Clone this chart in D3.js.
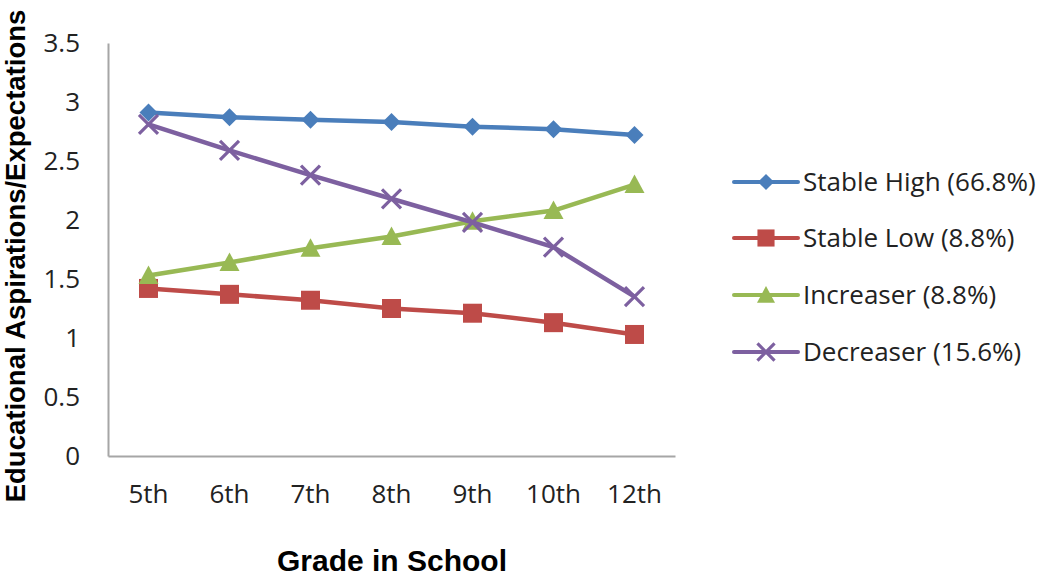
<!DOCTYPE html>
<html><head><meta charset="utf-8">
<script src="https://cdn.jsdelivr.net/npm/d3@7"></script>
<style>body{margin:0;background:#fff;} svg{display:block;}</style>
</head><body>
<script>
const grades = ["5th","6th","7th","8th","9th","10th","12th"];
const stableHigh = [2.91, 2.87, 2.85, 2.83, 2.79, 2.77, 2.72];
const stableLow  = [1.42, 1.37, 1.32, 1.25, 1.21, 1.13, 1.03];
const increaser  = [1.53, 1.64, 1.76, 1.86, 1.99, 2.08, 2.30];
const decreaser  = [2.81, 2.59, 2.38, 2.18, 1.98, 1.77, 1.35];
const seriesNames = ["Stable High (66.8%)","Stable Low (8.8%)","Increaser (8.8%)","Decreaser (15.6%)"];
const yTicks = [0,0.5,1,1.5,2,2.5,3,3.5];
const yTickLabels = ["0","0.5","1","1.5","2","2.5","3","3.5"];

const series = [
  {name: seriesNames[0], values: stableHigh, color: "#4A7EBB", marker: "diamond"},
  {name: seriesNames[1], values: stableLow,  color: "#BE4B48", marker: "square"},
  {name: seriesNames[2], values: increaser,  color: "#98B954", marker: "triangle"},
  {name: seriesNames[3], values: decreaser,  color: "#7D60A0", marker: "x"}
];

const W = 1050, H = 578;
const svg = d3.select("body").append("svg").attr("width", W).attr("height", H);
const mLeft = 108, mRight = 675, mTop = 43, mBottom = 456;

const x = d3.scaleBand().domain(grades).range([mLeft, mRight]);
const y = d3.scaleLinear().domain([0, 3.5]).range([mBottom, mTop]);

const tickFont = "Open Sans, sans-serif";
const tickSize = 26;

// axes
const yAxis = svg.append("g").attr("transform", `translate(${mLeft},0)`)
  .call(d3.axisLeft(y).tickValues(yTicks).tickFormat((d,i)=>yTickLabels[i]).tickSize(0).tickPadding(28));
yAxis.select(".domain").attr("stroke", "#a6a6a6").attr("stroke-width", 2);
yAxis.selectAll("text").attr("font-family", tickFont).attr("font-size", tickSize).attr("fill", "#222");

const xAxis = svg.append("g").attr("transform", `translate(0,${mBottom})`)
  .call(d3.axisBottom(x).tickSize(0).tickPadding(29));
xAxis.select(".domain").attr("stroke", "#a6a6a6").attr("stroke-width", 2);
xAxis.selectAll("text").attr("font-family", tickFont).attr("font-size", tickSize).attr("fill", "#222");

function drawMarker(g, type, color, cx, cy, k) {
  if (type === "diamond") {
    const r = 9*k;
    g.append("path").attr("d", `M${cx},${cy-r}L${cx+r},${cy}L${cx},${cy+r}L${cx-r},${cy}Z`).attr("fill", color);
  } else if (type === "square") {
    const r = 9.5*k;
    g.append("rect").attr("x", cx-r).attr("y", cy-r).attr("width", 2*r).attr("height", 2*r).attr("fill", color);
  } else if (type === "triangle") {
    const r = 10*k;
    g.append("path").attr("d", `M${cx},${cy-r}L${cx+r},${cy+r*0.85}L${cx-r},${cy+r*0.85}Z`).attr("fill", color);
  } else {
    const r = 9.5*k;
    g.append("path").attr("d", `M${cx-r},${cy-r}L${cx+r},${cy+r}M${cx+r},${cy-r}L${cx-r},${cy+r}`)
      .attr("stroke", color).attr("stroke-width", 3.2);
  }
}

const line = d3.line().x((d,i)=>x(grades[i]) + x.bandwidth()/2).y(d=>y(d));
series.forEach(s => {
  const g = svg.append("g");
  g.append("path").datum(s.values).attr("d", line).attr("fill","none")
    .attr("stroke", s.color).attr("stroke-width", 4.5).attr("stroke-linejoin","round");
  s.values.forEach((v,i) => drawMarker(g, s.marker, s.color, x(grades[i]) + x.bandwidth()/2, y(v), 1));
});

// legend
const legY = [182, 238, 295, 352];
series.forEach((s, i) => {
  const g = svg.append("g");
  g.append("line").attr("x1", 734).attr("x2", 798).attr("y1", legY[i]).attr("y2", legY[i])
    .attr("stroke", s.color).attr("stroke-width", 4).attr("stroke-linecap","round");
  drawMarker(g, s.marker, s.color, 766, legY[i], 0.9);
  g.append("text").attr("x", 803).attr("y", legY[i]).attr("dy", "0.36em")
    .attr("font-family", tickFont).attr("font-size", tickSize).attr("fill", "#222").text(s.name);
});

// titles
svg.append("text").attr("x", 392).attr("y", 571).attr("text-anchor","middle")
  .attr("font-family","Liberation Sans, Arial, sans-serif").attr("font-weight","bold").attr("font-size", 30)
  .attr("fill","#000").text("Grade in School");
svg.append("text").attr("transform","translate(25,256) rotate(-90)").attr("text-anchor","middle")
  .attr("font-family","Liberation Sans, Arial, sans-serif").attr("font-weight","bold").attr("font-size", 27.5)
  .attr("fill","#000").text("Educational Aspirations/Expectations");
</script>
</body></html>
